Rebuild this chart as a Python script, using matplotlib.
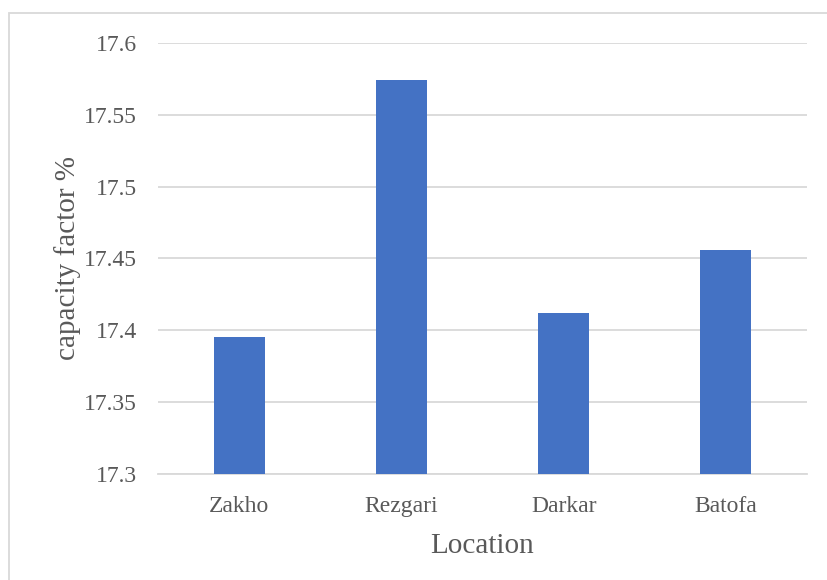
import matplotlib
matplotlib.use("Agg")
import matplotlib.pyplot as plt
from matplotlib.patches import Rectangle

locations = ["Zakho", "Rezgari", "Darkar", "Batofa"]
capacity_factor = [17.395, 17.574, 17.412, 17.456]
y_ticks = [17.3, 17.35, 17.4, 17.45, 17.5, 17.55, 17.6]
y_tick_labels = ["17.3", "17.35", "17.4", "17.45", "17.5", "17.55", "17.6"]

plt.rcParams['font.family'] = ['Liberation Serif', 'DejaVu Serif']
text_color = "#595959"
grid_color = "#D9D9D9"
bar_color = "#4472C4"

fig = plt.figure(figsize=(8.27, 5.80), dpi=100)
ax = fig.add_axes([158/827, 1-473.5/580, (807-158)/827, (473.5-43)/580])

x = list(range(len(locations)))
ax.bar(x, capacity_factor, width=0.315, color=bar_color, zorder=3)
ax.set_xlim(-0.5, len(locations) - 0.5)
ax.set_ylim(17.3, 17.6)
ax.set_yticks(y_ticks)
ax.set_yticklabels(y_tick_labels)
ax.set_xticks(x)
ax.set_xticklabels(locations)
ax.yaxis.grid(True, color=grid_color, linewidth=1.3, zorder=0)
ax.set_axisbelow(True)
for s in ["top", "right", "left"]:
    ax.spines[s].set_visible(False)
ax.spines["bottom"].set_color(grid_color)
ax.spines["bottom"].set_linewidth(1.3)
ax.tick_params(axis="both", length=0, labelsize=17, colors=text_color)
ax.tick_params(axis="y", pad=15)
ax.tick_params(axis="x", pad=16)
ax.set_xlabel("Location", fontsize=21, color=text_color, labelpad=12)
ax.set_ylabel("capacity factor %", fontsize=21, color=text_color, labelpad=2)

# outer chart border (top/left visible, right/bottom cropped)
fig.patches.append(Rectangle((9/827, -0.01), 1.2, 1 - 13.5/580 + 0.01, transform=fig.transFigure,
                             fill=False, edgecolor=grid_color, linewidth=1.3))

fig.savefig("out.png", dpi=100)
